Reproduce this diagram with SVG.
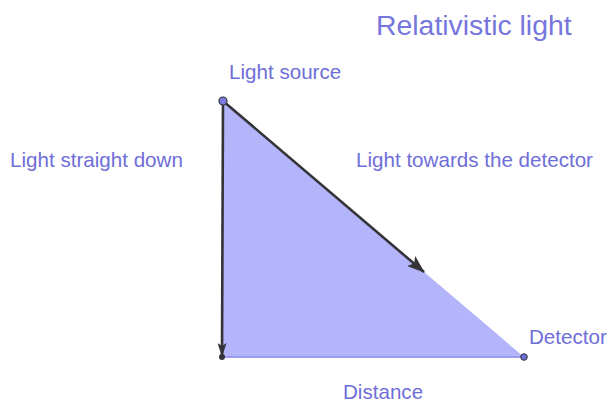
<svg xmlns="http://www.w3.org/2000/svg" width="609" height="403" viewBox="0 0 609 403">
<defs>
<style>
.lbl{font-family:"Liberation Sans",Arial,sans-serif;font-size:20.6px;fill:#6e6ed8}
.title{font-family:"Liberation Sans",Arial,sans-serif;font-size:28.4px;fill:#7676dc}
.arrow{stroke:#333338;stroke-width:2.6;fill:none}
</style>
<marker id="ah" viewBox="0 0 18 13" refX="17" refY="6.5" markerWidth="18" markerHeight="13" markerUnits="userSpaceOnUse" orient="auto">
<path d="M0,0 L18,6.5 L0,13 L4,6.5 Z" fill="#333338"/>
</marker>
<marker id="ahv" viewBox="0 0 14 9" refX="13" refY="4.5" markerWidth="14" markerHeight="9" markerUnits="userSpaceOnUse" orient="auto">
<path d="M0,0 L14,4.5 L0,9 L3,4.5 Z" fill="#333338"/>
</marker>
</defs>
<rect width="609" height="403" fill="#ffffff"/>
<g id="triangle">
<polygon points="223,101 524,357 222,357" fill="#b4b4fb"/>
<line x1="222" y1="357" x2="524" y2="357" stroke="#9b9bf0" stroke-width="2"/>
</g>
<g id="connectors">
<line class="arrow" x1="223" y1="101" x2="222" y2="356" marker-end="url(#ahv)"/>
<line class="arrow" x1="223" y1="101" x2="424" y2="272" marker-end="url(#ah)"/>
</g>
<g id="source">
<circle cx="223" cy="101" r="4" fill="#7b7be2" stroke="#333338" stroke-width="1.2"/>
<text class="lbl" x="229" y="79">Light source</text>
</g>
<g id="bottom">
<circle cx="222" cy="357" r="3" fill="#333338"/>
</g>
<g id="detector">
<circle cx="524" cy="357" r="3.3" fill="#6e6ed8" stroke="#333338" stroke-width="1"/>
<text class="lbl" x="529" y="344">Detector</text>
</g>
<text class="title" x="376" y="35">Relativistic light</text>
<text class="lbl" x="10" y="167">Light straight down</text>
<text class="lbl" x="356" y="167">Light towards the detector</text>
<text class="lbl" x="343" y="399">Distance</text>
</svg>
